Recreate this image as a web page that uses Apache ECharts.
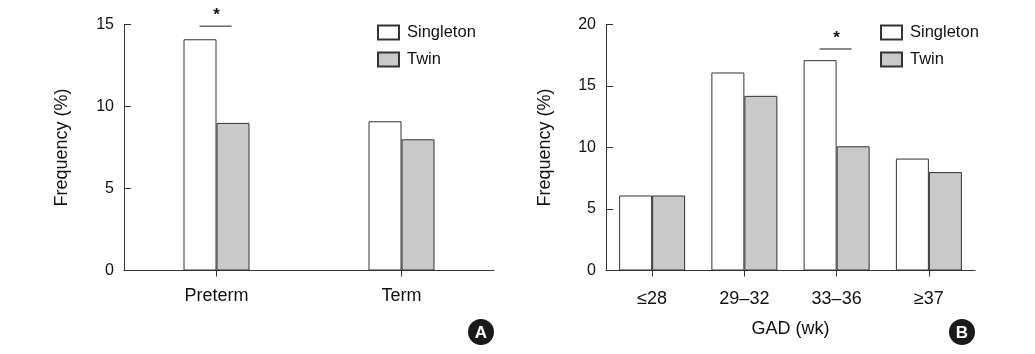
<!DOCTYPE html>
<html>
<head>
<meta charset="utf-8">
<script src="https://cdn.jsdelivr.net/npm/echarts@6/dist/echarts.min.js"></script>
<style>
	html, body { margin: 0; padding: 0; background: #fff; }
	#chart { width: 1035px; height: 354px; }
</style>
</head>
<body>
<div id="chart"></div>
<script>
//面板A数据
var birthCategories = ['Preterm', 'Term'];
var birthSingleton = [14.1, 9.1];
var birthTwin = [9.0, 8.0];
var birthTicks = [0, 5, 10, 15];
//面板B数据
var gadCategories = ['≤28', '29–32', '33–36', '≥37'];
var gadSingleton = [6.1, 16.1, 17.1, 9.1];
var gadTwin = [6.1, 14.2, 10.1, 8.0];
var gadTicks = [0, 5, 10, 15, 20];
//显著性标记 [类别序号, 高度]
var birthSig = [[0, 14.9]];
var gadSig = [[2, 18.0]];

var font = 'Liberation Sans, Arial, sans-serif';
var textColor = '#111';
var lineColor = '#333';

//坐标轴通用设置
function makeY(gridIndex, ticks) {
	return {
		type: 'value',
		gridIndex: gridIndex,
		min: ticks[0],
		max: ticks[ticks.length - 1],
		interval: ticks[1] - ticks[0],
		name: 'Frequency (%)',
		nameLocation: 'middle',
		nameGap: gridIndex == 0 ? 53 : 52,
		nameTextStyle: { fontFamily: font, fontSize: 18, color: textColor },
		axisLine: { show: true, lineStyle: { color: lineColor, width: 1 } },
		axisTick: { show: true, inside: true, length: 7, lineStyle: { color: lineColor } },
		axisLabel: { margin: 10, fontFamily: font, fontSize: 16, color: textColor },
		splitLine: { show: false }
	};
}
function makeX(gridIndex, cats) {
	return {
		type: 'category',
		gridIndex: gridIndex,
		data: cats,
		name: gridIndex == 1 ? 'GAD (wk)' : '',
		nameLocation: 'middle',
		nameGap: 50,
		nameTextStyle: { fontFamily: font, fontSize: 18, color: textColor },
		axisLine: { show: true, lineStyle: { color: lineColor, width: 1 } },
		axisTick: { show: true, alignWithLabel: true, length: 6, lineStyle: { color: lineColor } },
		axisLabel: { margin: gridIndex == 0 ? 17 : 20, fontFamily: font, fontSize: 18, color: textColor },
		splitLine: { show: false }
	};
}
function makeBar(name, data, idx, fill) {
	return {
		name: name,
		type: 'bar',
		xAxisIndex: idx,
		yAxisIndex: idx,
		data: data,
		barWidth: 33,
		barGap: '0%',
		itemStyle: { color: fill, borderColor: lineColor, borderWidth: 1 },
		emphasis: { disabled: true }
	};
}
//显著性横线和星号
function makeSig(data, idx) {
	return {
		type: 'custom',
		xAxisIndex: idx,
		yAxisIndex: idx,
		data: data,
		silent: true,
		renderItem: function(params, api) {
			var p = api.coord([api.value(0), api.value(1)]);
			return {
				type: 'group',
				children: [{
					type: 'line',
					shape: { x1: p[0] - 17, y1: p[1], x2: p[0] + 15, y2: p[1] },
					style: { stroke: '#666', lineWidth: 1.5 }
				}, {
					type: 'text',
					style: {
						text: '*', x: p[0], y: p[1] - 2,
						align: 'center', verticalAlign: 'bottom',
						font: 'bold 17px ' + font, fill: textColor
					}
				}]
			};
		}
	};
}
function makeLegend(left) {
	return {
		data: ['Singleton', 'Twin'],
		orient: 'vertical',
		left: left,
		top: 19,
		icon: 'rect',
		itemWidth: 21,
		itemHeight: 14,
		itemGap: 10,
		selectedMode: false,
		textStyle: { fontFamily: font, fontSize: 16.5, color: textColor, padding: [0, 0, 0, 3] }
	};
}
function badge(cx, cy, letter) {
	return {
		type: 'group',
		children: [{
			type: 'circle',
			shape: { cx: cx, cy: cy, r: 13 },
			style: { fill: '#1a1a1a' }
		}, {
			type: 'text',
			style: {
				text: letter, x: cx, y: cy + 1,
				align: 'center', verticalAlign: 'middle',
				font: 'bold 17px ' + font, fill: '#fff'
			}
		}]
	};
}

var chart = echarts.init(document.getElementById('chart'), null, { renderer: 'canvas' });
var option = {
	animation: false,
	backgroundColor: '#fff',
	grid: [
		{ left: 124, top: 24.5, width: 370, height: 246 },
		{ left: 606, top: 24.5, width: 369, height: 246 }
	],
	legend: [makeLegend(372), makeLegend(875)],
	xAxis: [makeX(0, birthCategories), makeX(1, gadCategories)],
	yAxis: [makeY(0, birthTicks), makeY(1, gadTicks)],
	series: [
		makeBar('Singleton', birthSingleton, 0, '#ffffff'),
		makeBar('Twin', birthTwin, 0, '#c9c9c9'),
		makeBar('Singleton', gadSingleton, 1, '#ffffff'),
		makeBar('Twin', gadTwin, 1, '#c9c9c9'),
		makeSig(birthSig, 0),
		makeSig(gadSig, 1)
	],
	graphic: [badge(481, 332, 'A'), badge(962, 332, 'B')]
};
chart.setOption(option);
</script>
</body>
</html>
